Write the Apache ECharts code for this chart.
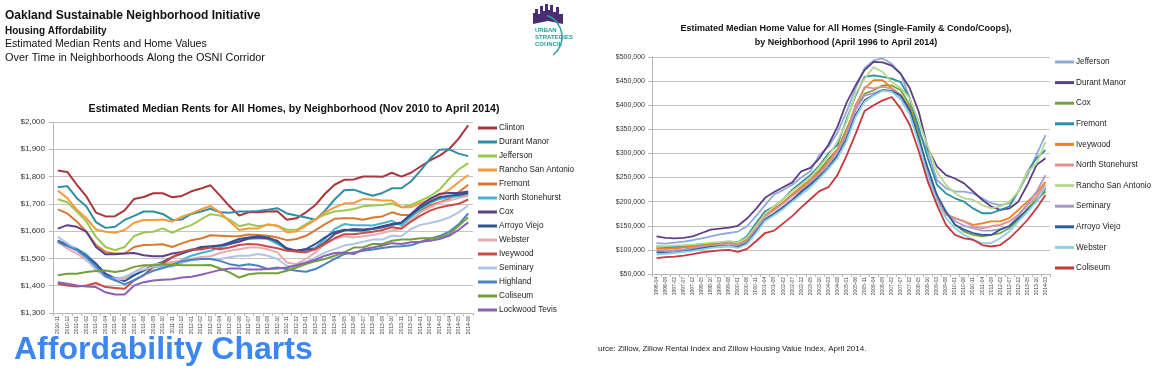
<!DOCTYPE html>
<html>
<head>
<meta charset="utf-8">
<script src="https://cdn.jsdelivr.net/npm/echarts@6/dist/echarts.min.js"></script>
<style>
html,body{margin:0;padding:0;background:#fff;}
#main{width:1168px;height:372px;}
</style>
</head>
<body>
<div id="main"></div>
<script>
// rents, monthly Nov 2010 - Jun 2014
var rentMonths = ['2010-11','2010-12','2011-01','2011-02','2011-03','2011-04','2011-05','2011-06','2011-07','2011-08','2011-09','2011-10','2011-11','2011-12',
    '2012-01','2012-02','2012-03','2012-04','2012-05','2012-06','2012-07','2012-08','2012-09','2012-10','2012-11','2012-12',
    '2013-01','2013-02','2013-03','2013-04','2013-05','2013-06','2013-07','2013-08','2013-09','2013-10','2013-11','2013-12',
    '2014-01','2014-02','2014-03','2014-04','2014-05','2014-06'];
var rentTicks = [1300, 2000, 100];

var clinton = [1822,1817,1770,1727,1668,1654,1655,1676,1718,1725,1739,1739,1724,1729,1746,1756,1768,1730,1691,1657,1669,1669,1672,1673,1642,1647,1669,1696,1737,1770,1788,1789,1800,1800,1799,1814,1800,1814,1837,1859,1877,1901,1939,1988];
var durantRent = [1761,1765,1721,1690,1633,1612,1616,1641,1656,1672,1672,1663,1641,1643,1663,1672,1682,1669,1667,1672,1672,1674,1678,1684,1665,1657,1650,1642,1675,1716,1750,1752,1740,1730,1740,1757,1757,1782,1822,1865,1898,1900,1884,1875];
var jeffersonRent = [1717,1706,1672,1635,1579,1542,1530,1542,1582,1595,1598,1610,1594,1610,1622,1643,1662,1657,1642,1618,1626,1618,1623,1620,1605,1605,1626,1645,1661,1672,1676,1681,1691,1694,1696,1701,1688,1696,1712,1728,1752,1792,1826,1849];
var ranchoRent = [1749,1721,1678,1647,1606,1598,1594,1604,1631,1641,1641,1643,1635,1653,1665,1680,1692,1669,1635,1604,1610,1610,1625,1620,1596,1599,1620,1641,1669,1687,1701,1703,1718,1716,1712,1712,1688,1688,1703,1716,1730,1752,1779,1806];
var fremontRent = [1680,1665,1635,1598,1549,1524,1518,1518,1542,1549,1550,1552,1542,1555,1567,1573,1585,1583,1581,1581,1588,1586,1583,1577,1567,1571,1583,1604,1626,1645,1647,1647,1642,1650,1654,1669,1659,1659,1675,1694,1706,1718,1743,1770];
var northStoneRent = [1565,1550,1535,1515,1480,1440,1428,1428,1440,1455,1468,1472,1478,1495,1510,1520,1528,1540,1553,1565,1571,1574,1571,1553,1534,1525,1527,1540,1571,1608,1626,1622,1622,1621,1629,1638,1620,1650,1681,1703,1718,1724,1728,1733];
var coxRent = [1609,1622,1616,1598,1542,1515,1515,1518,1520,1512,1508,1508,1518,1524,1530,1536,1543,1547,1553,1561,1574,1577,1574,1565,1534,1528,1534,1534,1559,1589,1602,1608,1606,1610,1618,1626,1632,1663,1694,1718,1737,1740,1740,1745];
var arroyoRent = [1565,1549,1533,1508,1481,1444,1426,1417,1438,1456,1475,1487,1505,1518,1530,1542,1545,1547,1559,1571,1577,1581,1577,1561,1537,1528,1534,1553,1577,1596,1605,1602,1602,1608,1614,1622,1630,1659,1687,1708,1724,1730,1733,1740];
var websterRent = [1561,1536,1518,1493,1462,1432,1419,1426,1450,1469,1478,1481,1487,1493,1499,1505,1508,1520,1528,1534,1540,1540,1534,1522,1485,1479,1498,1522,1553,1571,1581,1577,1581,1586,1593,1602,1608,1638,1669,1687,1703,1712,1721,1730];
var iveywoodRent = [1407,1401,1397,1401,1410,1395,1392,1389,1420,1438,1469,1481,1505,1524,1533,1533,1540,1534,1540,1549,1553,1551,1544,1537,1528,1525,1522,1534,1553,1574,1589,1589,1593,1598,1604,1614,1610,1635,1657,1675,1687,1694,1700,1716];
var seminaryRent = [1579,1555,1530,1499,1456,1432,1426,1432,1450,1459,1469,1475,1469,1483,1493,1499,1499,1498,1504,1510,1510,1516,1510,1498,1473,1467,1485,1504,1522,1534,1547,1553,1561,1569,1569,1583,1581,1608,1623,1630,1638,1650,1669,1694];
var highland = [1560,1545,1530,1505,1470,1435,1420,1405,1420,1440,1455,1465,1475,1490,1495,1498,1498,1491,1479,1473,1479,1473,1461,1467,1461,1455,1451,1461,1479,1498,1516,1522,1528,1533,1538,1543,1545,1548,1560,1572,1582,1598,1625,1665];
var coliseumRent = [1438,1444,1444,1450,1454,1456,1450,1456,1469,1475,1475,1478,1478,1475,1475,1475,1476,1463,1449,1430,1442,1446,1446,1446,1455,1467,1479,1490,1498,1510,1522,1540,1541,1553,1553,1565,1569,1569,1574,1574,1577,1589,1620,1651];
var lockwood = [1413,1407,1401,1397,1395,1376,1368,1368,1401,1413,1419,1422,1424,1430,1433,1440,1449,1458,1463,1463,1459,1459,1461,1463,1467,1475,1485,1495,1510,1520,1522,1516,1534,1540,1547,1556,1553,1559,1561,1565,1571,1583,1605,1632];

var rentNames = ['Clinton','Durant Manor','Jefferson','Rancho San Antonio','Fremont','North Stonehurst','Cox','Arroyo Viejo','Webster','Iveywood','Seminary','Highland','Coliseum','Lockwood Tevis'];
var rentData = [clinton, durantRent, jeffersonRent, ranchoRent, fremontRent, northStoneRent, coxRent, arroyoRent, websterRent, iveywoodRent, seminaryRent, highland, coliseumRent, lockwood];
var rentColors = ['#a9363b','#2f8ea3','#9bc850','#f99a3e','#d9782f','#45b4cf','#5e3f8a','#2e5592','#e4aeb0','#cc4b45','#b0c4e4','#4a82c6','#73a03a','#8a61b5'];

// home values (thousands $), every 5 months Apr 1996 - Mar 2014
var homeMonths = ['1996-04','1996-09','1997-02','1997-07','1997-12','1998-05','1998-10','1999-03','1999-08','2000-01','2000-06','2000-11',
    '2001-04','2001-09','2002-02','2002-07','2002-12','2003-05','2003-10','2004-03','2004-08','2005-01','2005-06','2005-11',
    '2006-04','2006-09','2007-02','2007-07','2007-12','2008-05','2008-10','2009-03','2009-08','2010-01','2010-06','2010-11',
    '2011-04','2011-09','2012-02','2012-07','2012-12','2013-05','2013-10','2014-03'];
var homeTicks = [50, 500, 50];

var jeffersonHome = [114,113,115,117,120,124,128,132,135,138,149,170,193,215,224,235,250,263,297,314,343,386,435,477,493,497,486,466,414,345,304,245,228,221,221,217,207,197,193,197,221,255,297,338];
var durantHome = [128,125,124,125,128,135,142,144,146,150,165,185,208,220,230,240,263,270,290,318,355,405,441,473,490,489,482,465,435,386,310,273,255,248,238,221,204,190,183,186,200,235,276,290];
var coxHome = [104,103,104,106,108,110,112,113,115,112,122,150,173,185,198,215,230,245,265,288,308,350,393,424,431,441,441,431,400,338,255,207,179,152,138,131,128,131,135,145,162,186,204,221];
var fremontHome = [108,106,107,109,110,112,113,115,117,116,128,155,180,190,205,225,240,255,275,300,318,370,420,459,462,459,455,448,414,352,290,235,217,207,200,186,176,176,183,190,221,262,290,307];
var iveywoodHome = [103,102,103,105,107,109,111,112,114,110,120,148,175,185,198,215,230,245,262,282,308,345,400,435,452,452,435,421,393,331,248,207,173,166,159,152,155,159,159,166,183,200,217,241];
var northStoneHome = [98,97,99,101,104,107,109,111,113,110,118,145,170,182,196,212,225,242,258,280,305,340,395,438,435,438,435,421,386,324,248,200,173,166,159,149,145,149,152,159,173,193,210,235];
var ranchoHome = [107,108,109,110,111,113,115,116,118,115,125,150,175,190,205,222,235,250,272,295,325,365,424,455,479,469,448,435,414,366,314,262,235,217,207,204,193,186,190,200,221,262,279,324];
var seminaryHome = [100,98,99,100,103,105,107,108,110,107,115,140,165,176,190,205,222,238,255,275,298,335,390,420,425,432,428,415,385,330,255,210,178,160,150,145,140,140,143,150,170,195,220,255];
var arroyoHome = [95,94,95,97,100,103,106,107,108,106,114,138,162,175,188,203,220,235,252,270,295,330,380,410,421,431,430,420,390,330,269,214,179,152,142,135,131,131,142,149,166,183,200,228];
var websterHome = [90,92,94,96,98,101,104,106,108,104,112,135,160,172,185,200,215,230,248,268,290,325,375,407,420,430,428,412,380,320,250,200,166,145,131,121,114,114,124,138,159,179,200,231];
var coliseumHome = [83,85,86,88,91,95,97,99,100,96,102,118,135,140,155,170,188,205,222,230,255,295,340,388,400,410,417,393,359,304,241,193,152,131,124,121,110,107,110,124,142,162,186,214];

var homeNames = ['Jefferson','Durant Manor','Cox','Fremont','Iveywood','North Stonehurst','Rancho San Antonio','Seminary','Arroyo Viejo','Webster','Coliseum'];
var homeData = [jeffersonHome, durantHome, coxHome, fremontHome, iveywoodHome, northStoneHome, ranchoHome, seminaryHome, arroyoHome, websterHome, coliseumHome];
var homeColors = ['#8eaad8','#5d3f86','#76a23c','#2e8fa3','#f0801e','#dc9290','#b7d98a','#ab98cc','#2d5d9c','#8fd0e4','#c8373a'];

var HV = ' \u00b7hv';   // suffix so the two legends don't share series names

var myChart = echarts.init(document.getElementById('main'));

var series = [];
rentNames.forEach(function (n, k) {
    series.push({
        name: n, type: 'line', xAxisIndex: 0, yAxisIndex: 0,
        data: rentData[k], symbol: 'none', animation: false,
        lineStyle: {width: 2, color: rentColors[k]},
        itemStyle: {color: rentColors[k]}
    });
});
homeNames.forEach(function (n, k) {
    series.push({
        name: n + HV, type: 'line', xAxisIndex: 1, yAxisIndex: 1,
        data: homeData[k], symbol: 'none', animation: false,
        lineStyle: {width: 1.8, color: homeColors[k]},
        itemStyle: {color: homeColors[k]}
    });
});

var axisGray = '#b8b8b8';
var lbl = '#333';
var font = '"Liberation Sans", Arial, sans-serif';

var option = {
    backgroundColor: '#fff',
    animation: false,
    textStyle: {fontFamily: font},
    grid: [
        {left: 53, top: 122, width: 420, height: 191},
        {left: 652, top: 57, width: 398, height: 217}
    ],
    xAxis: [
        {
            gridIndex: 0, type: 'category', data: rentMonths, boundaryGap: true,
            axisLine: {lineStyle: {color: axisGray}},
            axisTick: {show: true, length: 3, lineStyle: {color: axisGray}},
            axisLabel: {rotate: 90, interval: 0, fontSize: 5, color: '#444', margin: 3}
        },
        {
            gridIndex: 1, type: 'category', data: homeMonths, boundaryGap: true,
            axisLine: {lineStyle: {color: axisGray}},
            axisTick: {show: true, length: 3, lineStyle: {color: axisGray}},
            axisLabel: {rotate: 90, interval: 0, fontSize: 5, color: '#444', margin: 3}
        }
    ],
    yAxis: [
        {
            gridIndex: 0, type: 'value', min: rentTicks[0], max: rentTicks[1], interval: rentTicks[2],
            axisLine: {show: true, lineStyle: {color: axisGray}},
            axisTick: {show: true, length: 4, lineStyle: {color: axisGray}},
            splitLine: {lineStyle: {color: '#c4c4c4', width: 1}},
            axisLabel: {fontSize: 8, color: lbl, margin: 8,
                formatter: function (v) { return '$' + v.toLocaleString('en-US'); }}
        },
        {
            gridIndex: 1, type: 'value', min: homeTicks[0], max: homeTicks[1], interval: homeTicks[2],
            axisLine: {show: true, lineStyle: {color: axisGray}},
            axisTick: {show: true, length: 4, lineStyle: {color: axisGray}},
            splitLine: {lineStyle: {color: '#c4c4c4', width: 1}},
            axisLabel: {fontSize: 7, color: lbl, margin: 7,
                formatter: function (v) { return '$' + (v * 1000).toLocaleString('en-US'); }}
        }
    ],
    legend: [
        {
            data: rentNames, orient: 'vertical', left: 473, top: 118,
            icon: 'rect', itemWidth: 19, itemHeight: 3, itemGap: 4,
            selectedMode: false,
            textStyle: {fontSize: 8.2, color: '#222', lineHeight: 10, padding: [0, 0, 0, -3]}
        },
        {
            data: homeNames.map(function (n) { return n + HV; }), orient: 'vertical', left: 1050, top: 52,
            icon: 'rect', itemWidth: 19, itemHeight: 3, itemGap: 10.6,
            selectedMode: false,
            formatter: function (n) { return n.replace(HV, ''); },
            textStyle: {fontSize: 8.2, color: '#222', lineHeight: 10, padding: [0, 0, 0, -3]}
        }
    ],
    title: [
        {
            text: 'Estimated Median Rents for All Homes, by Neighborhood (Nov 2010 to April 2014)',
            left: 289, top: 99, textAlign: 'center',
            textStyle: {fontSize: 10.6, fontWeight: 'bold', color: '#111', fontFamily: font}
        },
        {
            text: 'Estimated Median Home Value for All Homes (Single-Family & Condo/Coops),\nby Neighborhood (April 1996 to April 2014)',
            left: 841, top: 17, textAlign: 'center',
            textStyle: {fontSize: 9, fontWeight: 'bold', color: '#111', lineHeight: 14, fontFamily: font}
        }
    ],
    graphic: [
        {type: 'text', left: 5, top: 10, style: {text: 'Oakland Sustainable Neighborhood Initiative', font: 'bold 12px ' + font, fill: '#111'}},
        {type: 'text', left: 5, top: 26, style: {text: 'Housing Affordability', font: 'bold 10px ' + font, fill: '#111'}},
        {type: 'text', left: 5, top: 39, style: {text: 'Estimated Median Rents and Home Values', font: '10.6px ' + font, fill: '#111'}},
        {type: 'text', left: 5, top: 52, style: {text: 'Over Time in Neighborhoods Along the OSNI Corridor', font: '10.9px ' + font, fill: '#111'}},
        // logo
        {type: 'polygon', shape: {points: [[533,24],[533,13],[535,13],[535,9],[538,9],[538,14],[540,14],[540,6],[543,6],[543,11],[545,11],[545,4],[548,4],[548,10],[550,10],[550,5],[553,5],[553,12],[556,12],[556,7],[559,7],[559,14],[563,14],[563,24],[548,21]]},
            style: {fill: '#4b2d73'}},
        {type: 'arc', shape: {cx: 539, cy: 37, r: 23, startAngle: -1.2, endAngle: 0.9}, style: {stroke: '#2aa3a0', lineWidth: 1.5, fill: null}},
        {type: 'text', left: 535, top: 27, style: {text: 'URBAN', font: 'bold 6px ' + font, fill: '#1f9a9a'}},
        {type: 'text', left: 535, top: 34, style: {text: 'STRATEGIES', font: 'bold 6px ' + font, fill: '#1f9a9a'}},
        {type: 'text', left: 535, top: 41, style: {text: 'COUNCIL', font: 'bold 6px ' + font, fill: '#1f9a9a'}},
        // footer texts
        {type: 'text', left: 598, top: 345, style: {text: 'urce: Zillow, Zillow Rental Index and Zillow Housing Value Index, April 2014.', font: '8px ' + font, fill: '#222'}},
        {type: 'text', left: 14, top: 334, style: {text: 'Affordability Charts', font: 'bold 32px ' + font, fill: '#3c86f2'}}
    ],
    series: series
};

myChart.setOption(option);

window.addEventListener('resize', function () {
    myChart.resize();
});
</script>
</body>
</html>
